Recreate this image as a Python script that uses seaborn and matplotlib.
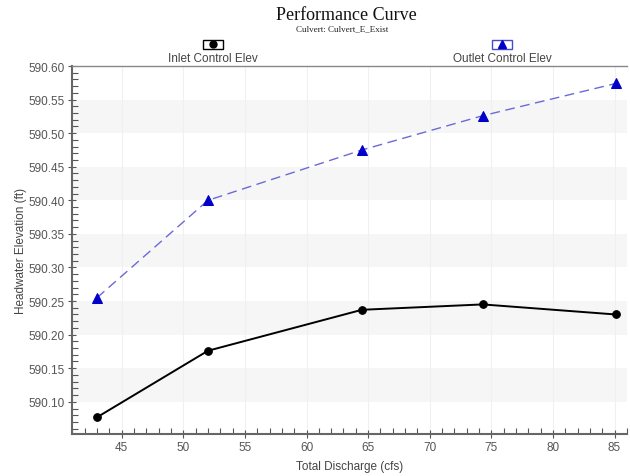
import numpy as np
import pandas as pd
import matplotlib
matplotlib.use("Agg")
import matplotlib.pyplot as plt
from matplotlib.patches import Rectangle
from matplotlib.lines import Line2D
from matplotlib.ticker import MultipleLocator, FormatStrFormatter
import seaborn as sns

# Данные
discharge = [43.0, 52.0, 64.5, 74.3, 85.1]
inlet_elev = [590.077, 590.176, 590.237, 590.245, 590.230]
outlet_elev = [590.255, 590.400, 590.475, 590.526, 590.574]
series_names = ["Inlet Control Elev", "Outlet Control Elev"]

sns.set_theme(style="white")
plt.rcParams["font.family"] = ["Liberation Sans", "DejaVu Sans"]

fig = plt.figure(figsize=(6.3, 4.77), dpi=100)
ax = fig.add_axes([0.114, 0.088, 0.881, 0.7715])

ax.set_xlim(40.95, 86.0)
ax.set_ylim(590.052, 590.60)

# полосы фона и вертикальная сетка
y_major = np.arange(590.10, 590.60, 0.05)
for yv in y_major[::2]:
    ax.axhspan(yv, yv + 0.05, color="#f6f6f6", zorder=0, lw=0)
for xv in range(45, 86, 5):
    ax.axvline(xv, color="#f0f0f0", lw=0.8, zorder=0)

df = pd.DataFrame({"q": discharge, "inlet": inlet_elev, "outlet": outlet_elev})

sns.lineplot(data=df, x="q", y="inlet", ax=ax, color="black", lw=1.4,
             marker="o", markersize=5.5, markeredgecolor="black", zorder=3)
sns.lineplot(data=df, x="q", y="outlet", ax=ax, color="#6a6ad8", lw=1.0,
             linestyle=(0, (7, 4)), marker="^", markersize=6.5,
             markerfacecolor="#0000c8", markeredgecolor="#0000c8", zorder=3)

# оси и тики
ax.xaxis.set_major_locator(MultipleLocator(5))
ax.xaxis.set_minor_locator(MultipleLocator(1))
ax.yaxis.set_major_locator(MultipleLocator(0.05))
ax.yaxis.set_minor_locator(MultipleLocator(0.01))
ax.yaxis.set_major_formatter(FormatStrFormatter("%.2f"))
ax.tick_params(axis="both", which="major", direction="inout", length=6,
               width=0.8, color="#555555", labelsize=8.5, labelcolor="#555555", pad=2)
ax.tick_params(axis="both", which="minor", direction="in", length=4,
               width=0.8, color="#555555")
ax.tick_params(bottom=True, left=True, which="both")

for side in ["left", "bottom"]:
    ax.spines[side].set_color("#666666")
    ax.spines[side].set_linewidth(1.5)
ax.spines["top"].set_color("#888888")
ax.spines["top"].set_linewidth(1.0)
ax.spines["right"].set_visible(False)

ax.set_xlabel("Total Discharge (cfs)", fontsize=8.5, color="#444444", labelpad=5)
ax.set_ylabel("Headwater Elevation (ft)", fontsize=8.5, color="#444444", labelpad=1)

# заголовки
fig.text(346 / 630, 1 - 15 / 477, "Performance Curve", ha="center", va="center",
         fontsize=13, family="Liberation Serif", color="#111111")
fig.text(342 / 630, 1 - 29 / 477, "Culvert: Culvert_E_Exist", ha="center",
         va="center", fontsize=6.5, family="Liberation Serif", color="#222222")

# легенда: значок в рамке над подписью
legend_items = [
    (213, series_names[0], "o", "black", "black", 5),
    (502, series_names[1], "^", "#0000c8", "#4a4ad0", 6),
]
for xc, name, mk, mcol, ecol, ms in legend_items:
    w, h = 20 / 630, 9 / 477
    fig.add_artist(Rectangle((xc / 630 - w / 2, 1 - 45 / 477 - h / 2), w, h,
                             transform=fig.transFigure, fc="white", ec=ecol, lw=1.0))
    fig.add_artist(Line2D([xc / 630], [1 - 45 / 477], transform=fig.transFigure,
                          marker=mk, markersize=ms, color=mcol, lw=0))
    fig.text(xc / 630, 1 - 59 / 477, name, ha="center", va="center",
             fontsize=8.5, color="#444444")

fig.savefig("out.png", dpi=100)
